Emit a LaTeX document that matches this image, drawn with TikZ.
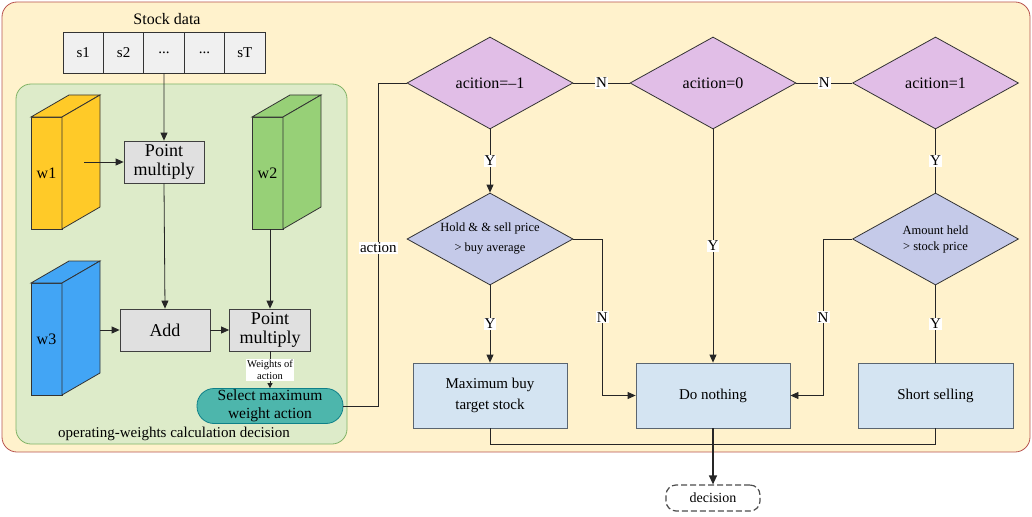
\documentclass[tikz,border=0pt]{standalone}
\usepackage{fontspec}
\setmainfont{Liberation Serif}
\usepackage{xcolor}
\usetikzlibrary{shapes.geometric,arrows.meta}

\definecolor{outerfill}{HTML}{FFF2CC}
\definecolor{outerline}{HTML}{B85450}
\definecolor{innerfill}{HTML}{DDEBC9}
\definecolor{innerline}{HTML}{82B366}
\definecolor{cellfill}{HTML}{F0F0F0}
\definecolor{opfill}{HTML}{E0E0E0}
\definecolor{wyellow}{HTML}{FFCA28}
\definecolor{wgreen}{HTML}{97D077}
\definecolor{wblue}{HTML}{42A5F5}
\definecolor{selfill}{HTML}{4DB6AC}
\definecolor{selline}{HTML}{0E8088}
\definecolor{condfill}{HTML}{E1BEE7}
\definecolor{checkfill}{HTML}{C5CAE9}
\definecolor{resfill}{HTML}{D4E4F2}
\definecolor{resline}{HTML}{5A6570}

\newcommand{\celldots}{...}

\begin{document}
\begin{tikzpicture}[x=1pt,y=1pt,
    every node/.style={inner sep=0pt},
    line/.style={draw=black!85, line width=0.8pt},
    arr/.style={line, -{Triangle[length=8pt,width=7pt]}},
    cell/.style={draw=black!80, fill=cellfill, line width=0.8pt, minimum width=40.4pt, minimum height=41pt, font=\fontsize{15}{17}\selectfont},
    opbox/.style={draw=black!75, fill=opfill, line width=0.8pt, minimum width=80pt, minimum height=42pt, align=center, font=\fontsize{18}{19}\selectfont},
    cond/.style={diamond, aspect=1.8, draw=black!80, fill=condfill, line width=0.8pt, minimum width=166pt, minimum height=92pt, align=center, font=\fontsize{16}{18}\selectfont},
    check/.style={cond, fill=checkfill},
    result/.style={draw=resline, fill=resfill, line width=0.8pt, minimum width=154pt, minimum height=65pt, align=center, font=\fontsize{15}{21}\selectfont},
    yn/.style={fill=white, inner sep=1pt, font=\fontsize{15}{16}\selectfont}]
    \useasboundingbox (0,0) rectangle (1032,-516);
    % frames
    \draw [draw=outerline, fill=outerfill, line width=0.8pt, rounded corners=15pt] (2,-2) rectangle (1030,-452);
    \draw [draw=innerline, fill=innerfill, line width=0.8pt, rounded corners=15pt] (16,-84) rectangle (347,-444);
    \node [font=\fontsize{15}{16}\selectfont] (calc) at (174,-434) {operating-weights calculation decision};
    % stock data
    \node [font=\fontsize{16}{17}\selectfont] (stock) at (167,-19) {Stock data};
    \foreach \i/\t in {1/s1, 2/s2, 3/\celldots, 4/\celldots, 5/sT}
        \node [cell] (c\i) at ({63+40.4*(\i-0.5)},-52.5) {\t};
    % weight slabs
    \foreach \n/\x/\y/\c in {w1/31/-117/wyellow, w2/252/-117/wgreen, w3/31/-283/wblue} {
        \filldraw [fill=\c, draw=black!80, line width=0.8pt] (\x,\y) rectangle ++(31,-112);
        \filldraw [fill=\c, draw=black!80, line width=0.8pt] (\x,\y) -- ++(38,22) -- ++(31,0) -- ++(-38,-22) -- cycle;
        \filldraw [fill=\c, draw=black!80, line width=0.8pt] ({\x+31},\y) -- ++(38,22) -- ++(0,-112) -- ++(-38,-22) -- cycle;
        \node [font=\fontsize{16}{17}\selectfont] (\n) at ({\x+15.5},{\y-56}) {\n};
    }
    \coordinate (w1side) at (84,-162);
    \coordinate (w2bot) at (270,-229);
    \coordinate (w3side) at (100,-330);
    % operations
    \node [opbox] (pm1) at (164,-162) {Point\\multiply};
    \node [opbox, minimum width=90pt] (add) at (165,-330) {Add};
    \node [opbox, minimum width=81pt] (pm2) at (270,-330) {Point\\multiply};
    \node [draw=selline, fill=selfill, line width=0.8pt, rounded corners=17pt, minimum width=146pt, minimum height=35pt, align=center, font=\fontsize{15.5}{18}\selectfont] (select) at (270,-406) {Select maximum\\weight action};
    \draw [arr] (c3.south) -- (pm1.north);
    \draw [arr] (w1side) -- (pm1.west);
    \draw [arr] (pm1.south) -- (add.north);
    \draw [arr] (w3side) -- (add.west);
    \draw [arr] (add.east) -- (pm2.west);
    \draw [arr] (w2bot) -- (pm2.north);
    \draw [line, -{Triangle[length=5pt,width=5pt]}] (pm2.south) -- node [fill=white, inner sep=1pt, align=center, font=\fontsize{10.5}{12}\selectfont] {Weights of\\action} (select.north);
    % decisions
    \node [cond] (d1) at (490,-83) {acition=--1};
    \node [cond] (d2) at (713,-83) {acition=0};
    \node [cond] (d3) at (935.5,-83) {acition=1};
    \node [check, font=\fontsize{12.5}{20}\selectfont] (d4) at (490,-239) {Hold \& \& sell price\\> buy average};
    \node [check, font=\fontsize{12.5}{16}\selectfont] (d5) at (935.5,-239) {Amount held\\> stock price};
    \node [result] (maxbuy) at (490,-395.5) {Maximum buy\\target stock};
    \node [result] (nothing) at (713,-395.5) {Do nothing};
    \node [result, minimum width=155pt] (short) at (935.5,-395.5) {Short selling};
    \node [draw=black!70, fill=white, dash pattern=on 6pt off 3pt, line width=1.2pt, rounded corners=10pt, minimum width=94pt, minimum height=26pt, font=\fontsize{14}{15}\selectfont] (decision) at (713,-498) {decision};
    % connectors
    \draw [line] (select.east) -- ++(35,0) |- node [yn, pos=0.245] {action} (d1.west);
    \draw [line] (d1.east) -- node [yn] {N} (d2.west);
    \draw [line] (d2.east) -- node [yn] {N} (d3.west);
    \draw [arr] (d1.south) -- node [yn] {Y} (d4.north);
    \draw [arr] (d2.south) -- node [yn] {Y} (nothing.north);
    \draw [line] (d3.south) -- node [yn] {Y} (d5.north);
    \draw [arr] (d4.south) -- node [yn] {Y} (maxbuy.north);
    \draw [line] (d5.south) -- node [yn] {Y} (short.north);
    \draw [arr] (d4.east) -- ++(29,0) |- node [yn, pos=0.25] {N} (nothing.west);
    \draw [arr] (d5.west) -- ++(-29,0) |- node [yn, pos=0.25] {N} (nothing.east);
    \draw [line] (maxbuy.south) -- ++(0,-16) -| (short.south);
    \draw [line, line width=1.3pt, -{Triangle[length=9pt,width=8pt]}] (nothing.south) -- (decision.north);
\end{tikzpicture}
\end{document}
